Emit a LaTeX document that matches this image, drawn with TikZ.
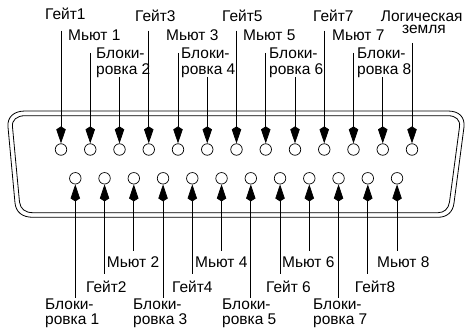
\documentclass[tikz,border=0pt]{standalone}
\usepackage{fontspec}
\setmainfont{Liberation Sans}
\usetikzlibrary{arrows.meta}
\tikzset{
  pin/.style={circle,draw,line width=0.7pt,minimum size=11.5pt,inner sep=0pt,fill=white},
  lbl/.style={anchor=base west,inner sep=0pt,font=\fontsize{15.5}{15.5}\selectfont},
  lblc/.style={anchor=base,inner sep=0pt,font=\fontsize{15.5}{15.5}\selectfont},
  wire/.style={line width=0.75pt,-{Kite[length=17pt,width=9.5pt,inset=3pt]}},
  shell/.style={line width=0.8pt}
}
\begin{document}
\begin{tikzpicture}[x=1pt,y=-1pt]
\useasboundingbox (0,0) rectangle (467,331);
% shell
\draw[shell] (25,111) -- (448,111) .. controls (459,111) and (465,117) .. (464,127) -- (454,203) .. controls (453,212) and (447,217.3) .. (438,217.3) -- (33,217.3) .. controls (22,217.3) and (16,212) .. (15,203) -- (8,127) .. controls (7,117) and (14,111) .. (25,111) -- cycle;
\draw[shell] (25,115.7) -- (448,115.7) .. controls (456,115.7) and (460.5,120) .. (459.5,127) -- (449.5,202) .. controls (448.5,209) and (444,212.7) .. (438,212.7) -- (33,212.7) .. controls (25,212.7) and (20.5,209) .. (19.5,202) -- (12.5,127) .. controls (11.5,120) and (17,115.7) .. (25,115.7) -- cycle;
% pins
\foreach \i in {1,...,13} \node[pin] (t\i) at ({61+(\i-1)*29.25},149.5) {};
\foreach \i in {1,...,12} \node[pin] (b\i) at ({75.3+(\i-1)*29.25},178.3) {};
% free ends
\foreach \i/\y in {1/30.7,2/53,3/77,4/30.7,5/53,6/77,7/30.7,8/53,9/77,10/30.7,11/53,12/77,13/43} {
  \coordinate (te\i) at ({61+(\i-1)*29.25},\y);
  \draw[wire] (te\i) -- (t\i);
}
\foreach \i/\y in {1/297.7,2/274,3/251,4/297.7,5/274,6/251,7/297.7,8/274,9/251,10/297.7,11/274,12/251} {
  \coordinate (be\i) at ({75.3+(\i-1)*29.25},\y);
  \draw[wire] (be\i) -- (b\i);
}
% top labels
\node[lbl] (g1) at (45,20) {Гейт1};
\node[lbl] (m1) at (68,40.7) {Мьют 1};
\node[lbl] (k2a) at (96,58.3) {Блоки-};
\node[lbl] (k2b) at (96,74.7) {ровка 2};
\node[lbl] (g3) at (135,21.7) {Гейт3};
\node[lbl] (m3) at (166,40.7) {Мьют 3};
\node[lbl] (k4a) at (181,58.3) {Блоки-};
\node[lbl] (k4b) at (181,74.7) {ровка 4};
\node[lbl] (g5) at (222,21.7) {Гейт5};
\node[lbl] (m5) at (243,40.7) {Мьют 5};
\node[lbl] (k6a) at (269,58.3) {Блоки-};
\node[lbl] (k6b) at (269,74.7) {ровка 6};
\node[lbl] (g7) at (313,21.7) {Гейт7};
\node[lbl] (m7) at (332,40.7) {Мьют 7};
\node[lbl] (k8a) at (357,58.3) {Блоки-};
\node[lbl] (k8b) at (357,74.7) {ровка 8};
\node[lblc] (le1) at (421.7,22) {Логическая};
\node[lblc] (le2) at (424,33.5) {земля};
% bottom labels
\node[lbl] (m2) at (106.7,267.7) {Мьют 2};
\node[lbl] (g2) at (86,293) {Гейт2};
\node[lbl] (k1a) at (45,310) {Блоки-};
\node[lbl] (k1b) at (45,325) {ровка 1};
\node[lbl] (k3a) at (133,310) {Блоки-};
\node[lbl] (k3b) at (133,325) {ровка 3};
\node[lbl] (g4) at (172,293) {Гейт4};
\node[lbl] (m4) at (195,267.7) {Мьют 4};
\node[lbl] (k5a) at (222,310) {Блоки-};
\node[lbl] (k5b) at (222,325) {ровка 5};
\node[lbl] (g6) at (266,293) {Гейт 6};
\node[lbl] (m6) at (282,267.7) {Мьют 6};
\node[lbl] (k7a) at (313,310) {Блоки-};
\node[lbl] (k7b) at (313,325) {ровка 7};
\node[lbl] (g8) at (354.7,293) {Гейт8};
\node[lbl] (m8) at (377,267.7) {Мьют 8};
\end{tikzpicture}
\end{document}
